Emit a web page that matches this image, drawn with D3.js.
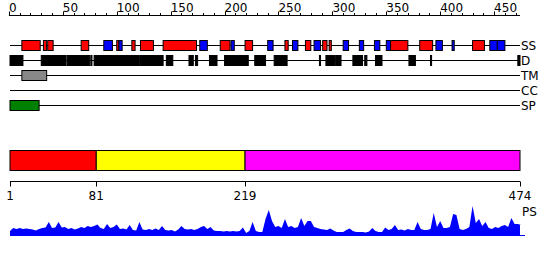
<!DOCTYPE html>
<html>
<head>
<meta charset="utf-8">
<script src="https://cdn.jsdelivr.net/npm/d3@7"></script>
<style>
  body { margin: 0; background: #fff; }
  svg { display: block; font-family: "DejaVu Sans", sans-serif; }
</style>
</head>
<body>
<div id="chart"></div>
<script>
const seqLength = 474;

// secondary structure: H = helix (red), E = strand (blue)
const ssSegments = [
  ["H", 12, 29], ["H", 32, 35], ["H", 36, 41], ["H", 67, 74], ["E", 88, 96],
  ["H", 100, 102], ["E", 102, 105], ["H", 114, 117], ["H", 122, 134], ["H", 143, 174],
  ["E", 177, 184], ["H", 196, 205], ["E", 206, 209], ["H", 219, 226], ["E", 240, 245],
  ["H", 256, 259], ["E", 263, 268], ["H", 275, 280], ["E", 283, 289], ["H", 291, 295],
  ["H", 297, 299], ["E", 310, 315], ["E", 325, 329], ["E", 339, 344], ["E", 350, 354],
  ["H", 354, 370], ["H", 381, 393], ["E", 396, 402], ["E", 411, 413], ["H", 430, 441],
  ["E", 446, 453], ["E", 453, 460]
];

// disordered regions
const disorderSegments = [
  [1, 13], [30, 53], [54, 75], [76, 77], [79, 121], [122, 143], [146, 152],
  [167, 171], [173, 175], [186, 193], [200, 222], [228, 238], [246, 258],
  [288, 289], [294, 302], [303, 308], [319, 328], [330, 332], [340, 346],
  [371, 377], [391, 392], [472, 474]
];

const tmSegments = [[12, 35]];
const ccSegments = [];
const spSegments = [[1, 28]];

// domain boundaries
const domainStarts = [1, 81, 219];
const domainEnds = [81, 219, 474];
const domainColors = ["#ff0000", "#ffff00", "#ff00ff"];
const domainTicks = [1, 81, 219, 474];

// PS profile, one value every 3 residues starting at residue 1
const psStep = 3;
const psValues = [
  4, 7, 6, 7, 6, 6.5, 6, 5.5, 4.5, 6, 7, 7.5, 13, 7, 7.5, 13, 7.5, 8, 6, 7,
  5.5, 6.5, 8, 7, 9, 8, 9, 10.5, 7, 6, 11, 7, 8, 10.5, 6, 6.5, 5.5, 10, 5, 4.5,
  13, 5.5, 5, 6, 5, 6.5, 5, 9, 5, 4.5, 5, 3.5, 5.5, 9, 6, 5.5, 6, 5, 6, 8,
  9, 6, 8, 4.5, 4, 4, 3.5, 4, 3.5, 4, 3.5, 4, 7.5, 2, 4, 13, 4, 3, 3, 16,
  25, 14, 8, 9, 7, 16, 8, 9, 7, 8, 17, 9, 14, 14, 8, 7, 6, 5.5, 5, 6.5,
  4.5, 3, 3, 3, 5, 6.5, 4, 3, 3, 3, 2.5, 3.5, 7, 4, 3, 3, 7.5, 5, 6, 10,
  5, 5.5, 4.5, 6, 5, 5, 13, 6, 5, 5, 6, 22, 8, 14, 7, 7, 8, 21, 20, 6,
  5, 6, 8, 29, 12, 16, 9, 13, 7, 6, 8, 7, 9, 10, 8, 17, 11, 11, 10
];

const width = 550, height = 260;
const svg = d3.select("#chart").append("svg")
  .attr("width", width)
  .attr("height", height);

const x = d3.scaleLinear().domain([1, seqLength]).range([10, 520]);

// top ruler
const ruler = svg.append("g");
const rulerY = 15.5;
ruler.append("line")
  .attr("x1", x(0)).attr("x2", x(seqLength))
  .attr("y1", rulerY).attr("y2", rulerY)
  .attr("stroke", "#000");
const rulerTicks = d3.range(0, seqLength, 10);
ruler.selectAll("line.tick")
  .data(rulerTicks)
  .enter().append("line")
  .attr("class", "tick")
  .attr("x1", d => Math.round(x(d)) + 0.5)
  .attr("x2", d => Math.round(x(d)) + 0.5)
  .attr("y1", d => d % 50 === 0 ? rulerY - 4 : rulerY - 2.5)
  .attr("y2", rulerY)
  .attr("stroke", "#000");
ruler.selectAll("text")
  .data(rulerTicks.filter(d => d % 50 === 0))
  .enter().append("text")
  .attr("x", d => x(d))
  .attr("y", 12)
  .style("font-size", "12px")
  .text(d => d);

// tracks
const tracks = [
  { name: "SS", y: 45.5 },
  { name: "D", y: 60.5 },
  { name: "TM", y: 75.5 },
  { name: "CC", y: 90.5 },
  { name: "SP", y: 105.5 }
];

tracks.forEach(t => {
  svg.append("line")
    .attr("x1", x(1)).attr("x2", x(seqLength))
    .attr("y1", t.y).attr("y2", t.y)
    .attr("stroke", "#000");
  svg.append("text")
    .attr("x", x(seqLength) + 1)
    .attr("y", t.y)
    .attr("dominant-baseline", "central")
    .style("font-size", "12px")
    .text(t.name);
});

function drawBoxes(segs, trackY, fill, stroke, h) {
  svg.append("g").selectAll("rect")
    .data(segs)
    .enter().append("rect")
    .attr("x", d => x(d[0]))
    .attr("y", trackY - h / 2)
    .attr("width", d => Math.max(1, x(d[1]) - x(d[0])))
    .attr("height", h)
    .attr("fill", typeof fill === "function" ? fill : () => fill)
    .attr("stroke", stroke);
}

// secondary structure boxes
svg.append("g").selectAll("rect")
  .data(ssSegments)
  .enter().append("rect")
  .attr("x", d => x(d[1]))
  .attr("y", 40.5)
  .attr("width", d => Math.max(1, x(d[2]) - x(d[1])))
  .attr("height", 10)
  .attr("fill", d => d[0] === "H" ? "#ff0000" : "#0000ff")
  .attr("stroke", "#000");

drawBoxes(disorderSegments, 60.5, "#000", "#000", 10);
drawBoxes(tmSegments, 75.5, "#888888", "#000", 10);
drawBoxes(ccSegments, 90.5, "#00aaaa", "#000", 10);
drawBoxes(spSegments, 105.5, "#008000", "#000", 10);

// domain bar
svg.append("g").selectAll("rect")
  .data(domainStarts)
  .enter().append("rect")
  .attr("x", (d, i) => x(d))
  .attr("y", 150.5)
  .attr("width", (d, i) => x(domainEnds[i]) - x(d))
  .attr("height", 20)
  .attr("fill", (d, i) => domainColors[i])
  .attr("stroke", "#000");

// domain axis
const axisY = 181.5;
svg.append("line")
  .attr("x1", x(1)).attr("x2", x(seqLength))
  .attr("y1", axisY).attr("y2", axisY)
  .attr("stroke", "#000");
svg.selectAll("line.dtick")
  .data(domainTicks)
  .enter().append("line")
  .attr("class", "dtick")
  .attr("x1", d => Math.round(x(d)) + 0.5)
  .attr("x2", d => Math.round(x(d)) + 0.5)
  .attr("y1", axisY)
  .attr("y2", axisY + 5)
  .attr("stroke", "#000");
svg.selectAll("text.dlabel")
  .data(domainTicks)
  .enter().append("text")
  .attr("class", "dlabel")
  .attr("x", d => x(d))
  .attr("y", 200)
  .attr("text-anchor", "middle")
  .style("font-size", "12px")
  .text(d => d);

// PS profile
const psData = psValues.map((v, i) => ({ pos: 1 + i * psStep, v }));
psData.push({ pos: seqLength, v: 10 });
const y = d3.scaleLinear().domain([0, 30]).range([235, 205]);
const area = d3.area()
  .x(d => x(d.pos))
  .y0(y(0))
  .y1(d => y(d.v));
svg.append("path")
  .datum(psData)
  .attr("d", area)
  .attr("fill", "#0000ff");
svg.append("line")
  .attr("x1", x(1)).attr("x2", x(seqLength) + 5)
  .attr("y1", y(0) + 0.5).attr("y2", y(0) + 0.5)
  .attr("stroke", "#0000ff");
svg.append("text")
  .attr("x", x(seqLength) + 2)
  .attr("y", 212)
  .attr("dominant-baseline", "central")
  .style("font-size", "12px")
  .text("PS");
</script>
</body>
</html>
